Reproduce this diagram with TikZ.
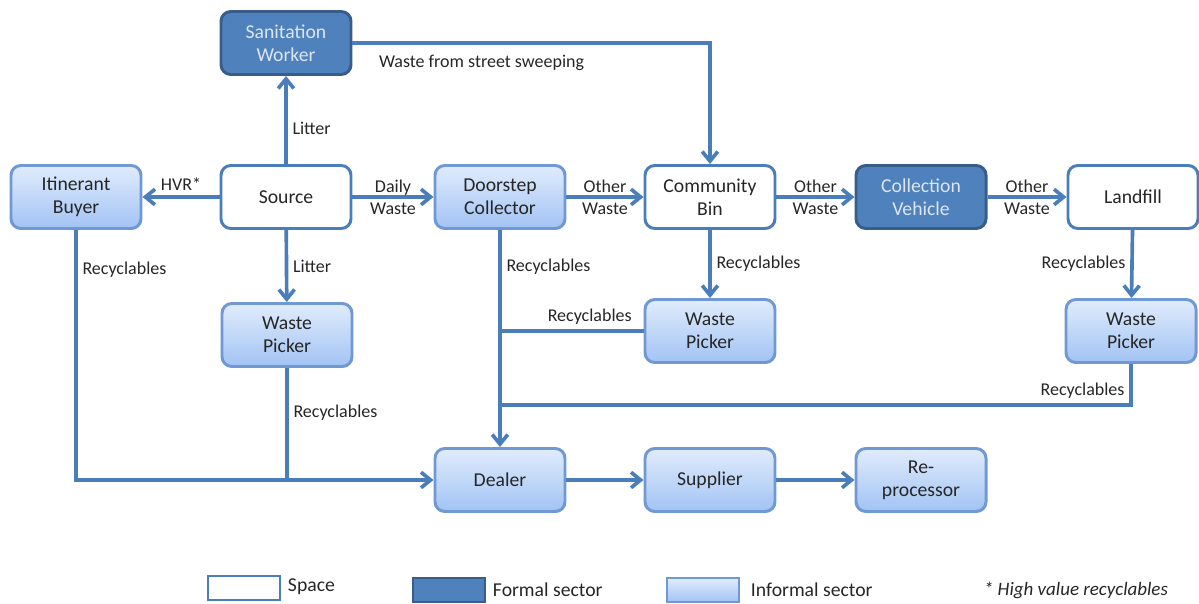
\documentclass[tikz,border=0pt]{standalone}
\usepackage{fontspec}
\setmainfont{Carlito}
\usetikzlibrary{arrows.meta,shadows}
\definecolor{lineblue}{RGB}{74,126,187}
\definecolor{formalfill}{RGB}{79,129,189}
\definecolor{formaldraw}{RGB}{56,93,138}
\definecolor{formaltext}{RGB}{220,230,242}
\definecolor{infotop}{RGB}{224,236,252}
\definecolor{infobot}{RGB}{162,195,244}
\definecolor{infodraw}{RGB}{112,152,210}
\definecolor{txt}{RGB}{38,38,38}
\tikzset{box/.style={rectangle,rounded corners=7pt,line width=2.1pt,minimum width=3.25cm,
		minimum height=1.575cm,align=center,font=\fontsize{14}{16.4}\selectfont,text=txt},
	space/.style={box,draw=lineblue,fill=white},
	formal/.style={box,draw=formaldraw,fill=formalfill,text=formaltext},
	informal/.style={box,draw=infodraw,top color=infotop,bottom color=infobot,
		drop shadow={opacity=0.2,shadow xshift=0.6pt,shadow yshift=-1pt}},
	flow/.style={draw=lineblue,line width=2.6pt,-{Straight Barb[length=2.4mm,width=3.9mm]}},
	link/.style={draw=lineblue,line width=2.6pt},
	lbl/.style={font=\fontsize{12.8}{15.6}\selectfont,text=txt,align=center},
	key/.style={rectangle,line width=2pt,minimum width=1.8cm,minimum height=0.6cm},
	keytxt/.style={font=\fontsize{14}{16}\selectfont,text=txt,anchor=west}}

\begin{document}
\begin{tikzpicture}[x=0.025cm,y=-0.025cm]
	\useasboundingbox (0,0) rectangle (1199,604);
	% boxes
	\node[formal] (San) at (286,43) {Sanitation\\Worker};
	\node[informal] (Itb) at (76,197) {Itinerant\\Buyer};
	\node[space] (Src) at (286,197) {Source};
	\node[informal] (Dsc) at (500,197) {Doorstep\\Collector};
	\node[space] (Bin) at (710,197) {Community\\Bin};
	\node[formal] (Veh) at (921,197) {Collection\\Vehicle};
	\node[space] (Lfl) at (1133,197) {Landfill};
	\node[informal] (Wp1) at (287,335) {Waste\\Picker};
	\node[informal] (Wp2) at (710,331) {Waste\\Picker};
	\node[informal] (Wp3) at (1131,331) {Waste\\Picker};
	\node[informal] (Dlr) at (500,480) {Dealer};
	\node[informal] (Sup) at (710,480) {Supplier};
	\node[informal] (Rep) at (921,480) {Re-\\processor};
	\coordinate (J3) at (500,405);

	% flows
	\path [flow](Src) edge node[lbl,right,pos=0.4] {Litter} (San);
	\path [flow](Src) edge node[lbl,above] {HVR*} (Itb);
	\path [flow](Src) edge node[lbl] {Daily\\Waste} (Dsc);
	\path [flow](Dsc) edge node[lbl] {Other\\Waste} (Bin);
	\path [flow](Bin) edge node[lbl] {Other\\Waste} (Veh);
	\path [flow](Veh) edge node[lbl] {Other\\Waste} (Lfl);
	\path [flow](Src) edge node[lbl,right] {Litter} (Wp1);
	\path [flow](Bin) edge node[lbl,right] {Recyclables} (Wp2);
	\path [flow](Lfl) edge node[lbl,left] {Recyclables} (Wp3);
	\path [flow](Dsc) edge node[lbl,right,pos=0.17] {Recyclables} (Dlr);
	\path [flow](Dlr) edge (Sup);
	\path [flow](Sup) edge (Rep);
	\draw [flow](San.east) -| node[lbl,pos=0.028,anchor=north west,yshift=-4pt] {Waste from street sweeping} (Bin.north);
	\draw [flow](Itb.south) |- node[lbl,pos=0.08,right] {Recyclables} (Dlr.west);
	\draw [link](Wp1.south) -- node[lbl,pos=0.4,right] {Recyclables} (Wp1.south |- Dlr.west);
	\draw [link](Wp2.west) -- node[lbl,pos=0.375,above] {Recyclables} (Wp2.west -| Dsc.south);
	\draw [link](Wp3.south) |- node[lbl,pos=0.5,anchor=south east] {Recyclables} (J3);

	% legend
	\node[key,draw=lineblue,fill=white] (KeySpace) at (244,588) {};
	\node[keytxt] (KeySpaceTxt) at (283,587) {Space};
	\node[key,draw=formaldraw,fill=formalfill] (KeyFormal) at (449,590) {};
	\node[keytxt] (KeyFormalTxt) at (488,590) {Formal sector};
	\node[key,draw=infodraw,top color=infotop,bottom color=infobot] (KeyInformal) at (703,590) {};
	\node[keytxt] (KeyInformalTxt) at (746,590) {Informal sector};
	\node[keytxt,font=\fontsize{13.5}{15}\selectfont\itshape] (KeyNote) at (979,590) {* High value recyclables};
\end{tikzpicture}
\end{document}
